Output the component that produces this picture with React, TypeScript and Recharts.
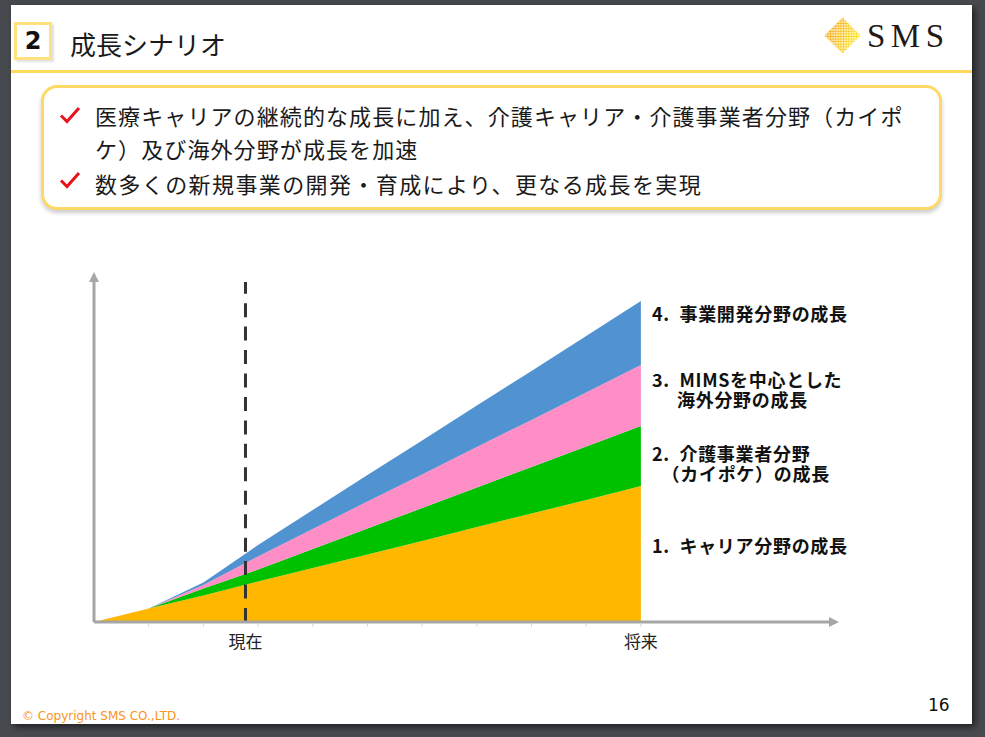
import React from 'react';
import { AreaChart, Area, XAxis, YAxis, ReferenceLine } from 'recharts';

// ── 時間軸（0 = 起点 … 10 = 将来）
const PERIODS = [0, 1, 2, 3, 4, 5, 6, 7, 8, 9, 10];

// ── 各分野の積み上げ値（相対値・図から読み取り）
const CAREER = [0, 13.5, 26.5, 40.5, 54, 67.5, 81, 95, 108.5, 122, 136];
const KAIGO = [0, 0, 7, 12, 19, 26, 33, 39.5, 46.5, 53.5, 60];
const OVERSEAS = [0, 0, 3.5, 13, 20, 27, 33.5, 40.5, 47, 54, 61];
const NEWBIZ = [0, 0, 2.5, 11.5, 19, 26.5, 34, 41.5, 49, 56.5, 64];

// ── 軸
const NOW_AT = 2.77;
const X_MAX = 13.44;
const Y_MAX = 340;
const STEP_TICKS = [1, 2, 3, 4, 5, 6, 7, 8, 9, 10];
const TICK_LABELS = [
  { at: NOW_AT, label: '現在' },
  { at: 10, label: '将来' },
];

const BULLETS = [
  ['医療キャリアの継続的な成長に加え、介護キャリア・介護事業者分野（カイポ', 'ケ）及び海外分野が成長を加速'],
  ['数多くの新規事業の開発・育成により、更なる成長を実現'],
];

const COLORS = {
  career: '#FFB700',
  kaigo: '#00C100',
  overseas: '#FF8DC6',
  newbiz: '#5192D0',
  axis: '#a6a6a6',
};

const JP = '"Noto Sans CJK JP", "Noto Sans", sans-serif';

const data = PERIODS.map((t, i) => ({
  t,
  career: CAREER[i],
  kaigo: KAIGO[i],
  overseas: OVERSEAS[i],
  newbiz: NEWBIZ[i],
}));

const Txt = ({ x, cy, size, children, style }: any) => {
  const h = Math.round(size * 1.1);
  return (
    <div
      style={{
        position: 'absolute', left: x, top: cy - h / 2, height: h,
        lineHeight: `${h}px`, fontSize: size, whiteSpace: 'nowrap',
        fontFamily: JP, color: '#1a1a1a', ...style,
      }}
    >
      {children}
    </div>
  );
};

// 系列ラベル：1つのテキストで改行（番号ぶんはぶら下げインデント）
const SeriesLabel = ({ cy, text, hang = true }: any) => (
  <div style={{
    position: 'absolute', left: hang ? 677 : 652, top: cy - 10, lineHeight: '20px', fontSize: 18,
    fontFamily: JP, fontWeight: 700, letterSpacing: 0.7, color: '#111',
    textIndent: hang ? -25 : 0, whiteSpace: 'pre',
  }}>
    {text}
  </div>
);

const AxisTick = ({ x, y, payload }: any) => {
  const v = payload.value;
  const lab = TICK_LABELS.find(t => Math.abs(t.at - v) < 1e-6);
  const isStep = STEP_TICKS.includes(v);
  return (
    <g>
      {isStep && <line x1={x} x2={x} y1={y + 1.5} y2={y + 4.5} stroke="#d4d4d4" strokeWidth={1} />}
      {lab && (
        <text x={x} y={y + 18.5} textAnchor="middle" dominantBaseline="central"
          fontSize={17} fill="#222" fontFamily={JP}>
          {lab.label}
        </text>
      )}
    </g>
  );
};

const Check = ({ x, y }: any) => (
  <svg style={{ position: 'absolute', left: x, top: y }} width={22} height={18}>
    <path d="M2,9.5 L8,15.5 L20,2" stroke="#e8141c" strokeWidth={3} fill="none" />
  </svg>
);

export default function App() {
  return (
    <div style={{ position: 'absolute', left: 0, top: 0, width: 985, height: 737, background: '#46494d', overflow: 'hidden' }}>
      {/* スライド */}
      <div style={{ position: 'absolute', left: 11, top: 5, width: 961, height: 719, background: '#fff', boxShadow: '3px 3px 6px rgba(0,0,0,0.55)' }} />

      {/* 見出し */}
      <div style={{
        position: 'absolute', left: 14, top: 22, width: 38, height: 38, boxSizing: 'border-box',
        border: '3px solid #ffe27e', boxShadow: '2px 2px 2px rgba(0,0,0,0.12)',
        display: 'flex', alignItems: 'center', justifyContent: 'center',
        fontFamily: '"DejaVu Sans", sans-serif', fontWeight: 700, fontSize: 24, color: '#111',
      }}>2</div>
      <Txt x={70} cy={43} size={26}>成長シナリオ</Txt>
      <div style={{ position: 'absolute', left: 11, top: 70, width: 961, height: 2.5, background: '#ffd95c' }} />

      {/* ロゴ */}
      <svg style={{ position: 'absolute', left: 824, top: 17 }} width={37} height={37}>
        <defs>
          <linearGradient id="logoGrad" x1="0" y1="0" x2="1" y2="0.4">
            <stop offset="0" stopColor="#ef8a00" />
            <stop offset="1" stopColor="#ffe200" />
          </linearGradient>
          <pattern id="logoDots" width="2.6" height="2.6" patternUnits="userSpaceOnUse">
            <circle cx="1.3" cy="1.3" r="1.1" fill="#fff" />
          </pattern>
          <mask id="logoMask">
            <rect width="37" height="37" fill="url(#logoDots)" />
          </mask>
        </defs>
        <polygon points="18.5,0.5 36.5,18.5 18.5,36.5 0.5,18.5" fill="url(#logoGrad)" mask="url(#logoMask)" />
      </svg>
      <Txt x={867} cy={36} size={33} style={{ fontFamily: '"Liberation Serif", serif', letterSpacing: 5.5, color: '#231815' }}>SMS</Txt>

      {/* 要点ボックス */}
      <div style={{
        position: 'absolute', left: 41, top: 85, width: 901, height: 125, boxSizing: 'border-box',
        border: '3px solid #ffd966', borderRadius: 16, background: '#fff',
        boxShadow: '0 3px 4px rgba(0,0,0,0.2)',
      }} />
      <Check x={59} y={106} />
      <Txt x={95} cy={115} size={22} style={{ letterSpacing: 1.1 }}>{BULLETS[0][0]}</Txt>
      <Txt x={95} cy={148} size={22} style={{ letterSpacing: 1.1 }}>{BULLETS[0][1]}</Txt>
      <Check x={59} y={171} />
      <Txt x={95} cy={183} size={22} style={{ letterSpacing: 1.4 }}>{BULLETS[1][0]}</Txt>

      {/* グラフ */}
      <div style={{ position: 'absolute', left: 60, top: 250 }}>
        <AreaChart width={800} height={420} data={data} margin={{ top: 32, right: 31, left: 33, bottom: 18 }}>
          <defs>
            <marker id="axisArrow" viewBox="0 0 10 10" refX="0" refY="5" markerWidth="10" markerHeight="10"
              markerUnits="userSpaceOnUse" orient="auto-start-reverse">
              <path d="M0,0 L10,5 L0,10 z" fill={COLORS.axis} />
            </marker>
          </defs>
          <XAxis
            type="number" dataKey="t" domain={[0, X_MAX]}
            ticks={[0, 1, 2, NOW_AT, 3, 4, 5, 6, 7, 8, 9, 10]} interval={0}
            height={30} tickSize={0} tickMargin={0} tickLine={false}
            axisLine={{ stroke: COLORS.axis, strokeWidth: 3, markerEnd: 'url(#axisArrow)' }}
            tick={<AxisTick />}
          />
          <YAxis
            type="number" domain={[0, Y_MAX]} width={1} tick={false} tickLine={false}
            axisLine={{ stroke: COLORS.axis, strokeWidth: 3, markerStart: 'url(#axisArrow)' }}
          />
          <Area type="linear" dataKey="career" stackId="g" stroke="none" fill={COLORS.career} fillOpacity={1} isAnimationActive={false} />
          <Area type="linear" dataKey="kaigo" stackId="g" stroke="none" fill={COLORS.kaigo} fillOpacity={1} isAnimationActive={false} />
          <Area type="linear" dataKey="overseas" stackId="g" stroke="none" fill={COLORS.overseas} fillOpacity={1} isAnimationActive={false} />
          <Area type="linear" dataKey="newbiz" stackId="g" stroke="none" fill={COLORS.newbiz} fillOpacity={1} isAnimationActive={false} />
          <ReferenceLine x={NOW_AT} stroke="#333" strokeWidth={3} strokeDasharray="14 9.45" />
        </AreaChart>
      </div>

      {/* 系列ラベル */}
      <SeriesLabel cy={313} text={'4.  事業開発分野の成長'} />
      <SeriesLabel cy={379} text={'3.  MIMSを中心とした\n海外分野の成長'} />
      <SeriesLabel cy={453} text={'2.  介護事業者分野\n  （カイポケ）の成長'} hang={false} />
      <SeriesLabel cy={545} text={'1.  キャリア分野の成長'} />

      {/* フッター */}
      <Txt x={22} cy={716} size={12} style={{ fontFamily: '"DejaVu Sans", sans-serif', color: '#f7941d' }}>© Copyright SMS CO.,LTD.</Txt>
      <Txt x={928} cy={705} size={17} style={{ fontFamily: '"DejaVu Sans", sans-serif', color: '#111' }}>16</Txt>
    </div>
  );
}
